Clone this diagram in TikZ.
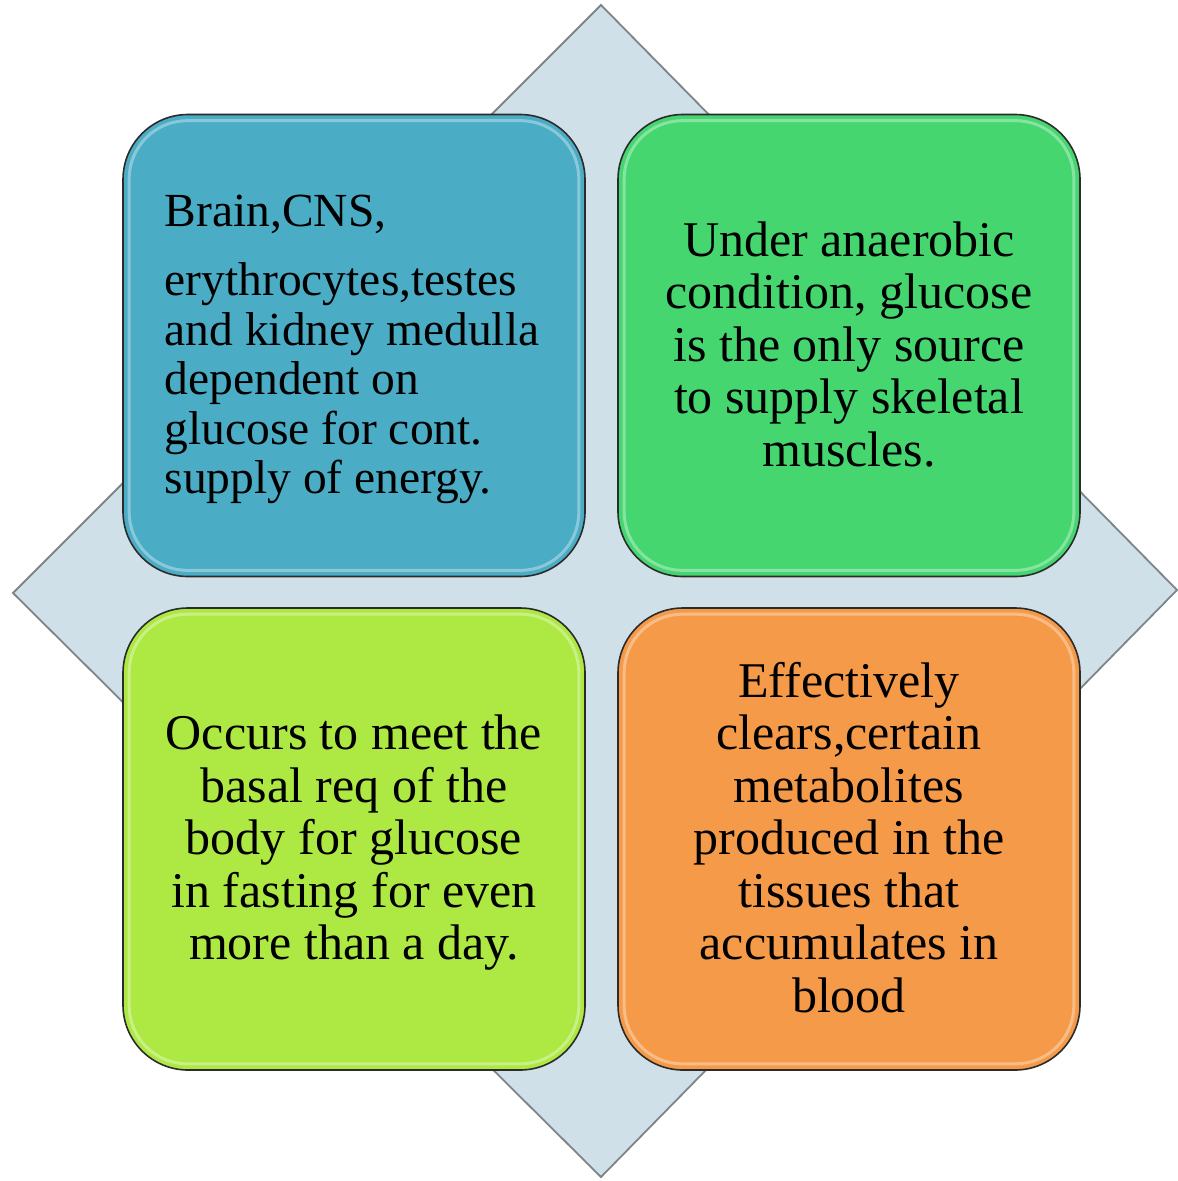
\documentclass[tikz,border=0pt]{standalone}
\usepackage{fontspec}
\setmainfont{Liberation Serif}
\definecolor{diamfill}{HTML}{CFE0E8}
\definecolor{diamline}{HTML}{7E8589}
\definecolor{cblue}{HTML}{4BACC6}
\definecolor{cgreen}{HTML}{45D670}
\definecolor{clime}{HTML}{ADE843}
\definecolor{corange}{HTML}{F59A48}
\definecolor{edge}{HTML}{2B2B2B}
\begin{document}
\begin{tikzpicture}[x=1pt,y=-1pt,
  card/.style={draw=edge, line width=1.6pt, rounded corners=65pt,
    minimum width=462pt, minimum height=462pt, inner sep=0pt},
  bigtext/.style={font=\fontsize{50}{52.5}\selectfont, align=center, text=black, inner sep=0pt},
  smalltext/.style={font=\fontsize{47.5}{49.5}\selectfont, align=left, text=black, inner sep=0pt},
  gloss/.style={draw=white, opacity=0.35, line width=3pt, rounded corners=58pt}]
\useasboundingbox (0,0) rectangle (1178,1181);
\fill[white] (0,0) rectangle (1178,1181);
% diamond
\draw[fill=diamfill, draw=diamline, line width=1.8pt, line join=miter]
  (601,5) -- (1177,590) -- (601,1177) -- (13,593) -- cycle;
% cards
\node[card, fill=cblue] (b) at (354,345.5) {};
\node[card, fill=cgreen] (g) at (849,345.5) {};
\node[card, fill=clime] (l) at (354,839) {};
\node[card, fill=corange] (o) at (849,839) {};
% gloss highlights
\foreach \n in {b,g,l,o}{
  \draw[gloss] ([shift={(7,7)}]\n.north west) rectangle ([shift={(-7,-7)}]\n.south east);
}
% texts
\node[smalltext] (bt) at ([shift={(-2,5)}]b.center)
  {\strut Brain,CNS,\\[19.5pt]
   \strut erythrocytes,testes\\
   \strut and kidney medulla\\
   \strut dependent on\\
   \strut glucose for cont.\\
   \strut supply of energy.};
\node[bigtext] (gt) at ([shift={(0,5)}]g.center)
  {\strut Under anaerobic\\
   \strut condition, glucose\\
   \strut is the only source\\
   \strut to supply skeletal\\
   \strut muscles.};
\node[bigtext] (lt) at ([shift={(0,5)}]l.center)
  {\strut Occurs to meet the\\
   \strut basal req of the\\
   \strut body for glucose\\
   \strut in fasting for even\\
   \strut more than a day.};
\node[bigtext] (ot) at ([shift={(0,5)}]o.center)
  {\strut Effectively\\
   \strut clears,certain\\
   \strut metabolites\\
   \strut produced in the\\
   \strut tissues that\\
   \strut accumulates in\\
   \strut blood};
\end{tikzpicture}
\end{document}
